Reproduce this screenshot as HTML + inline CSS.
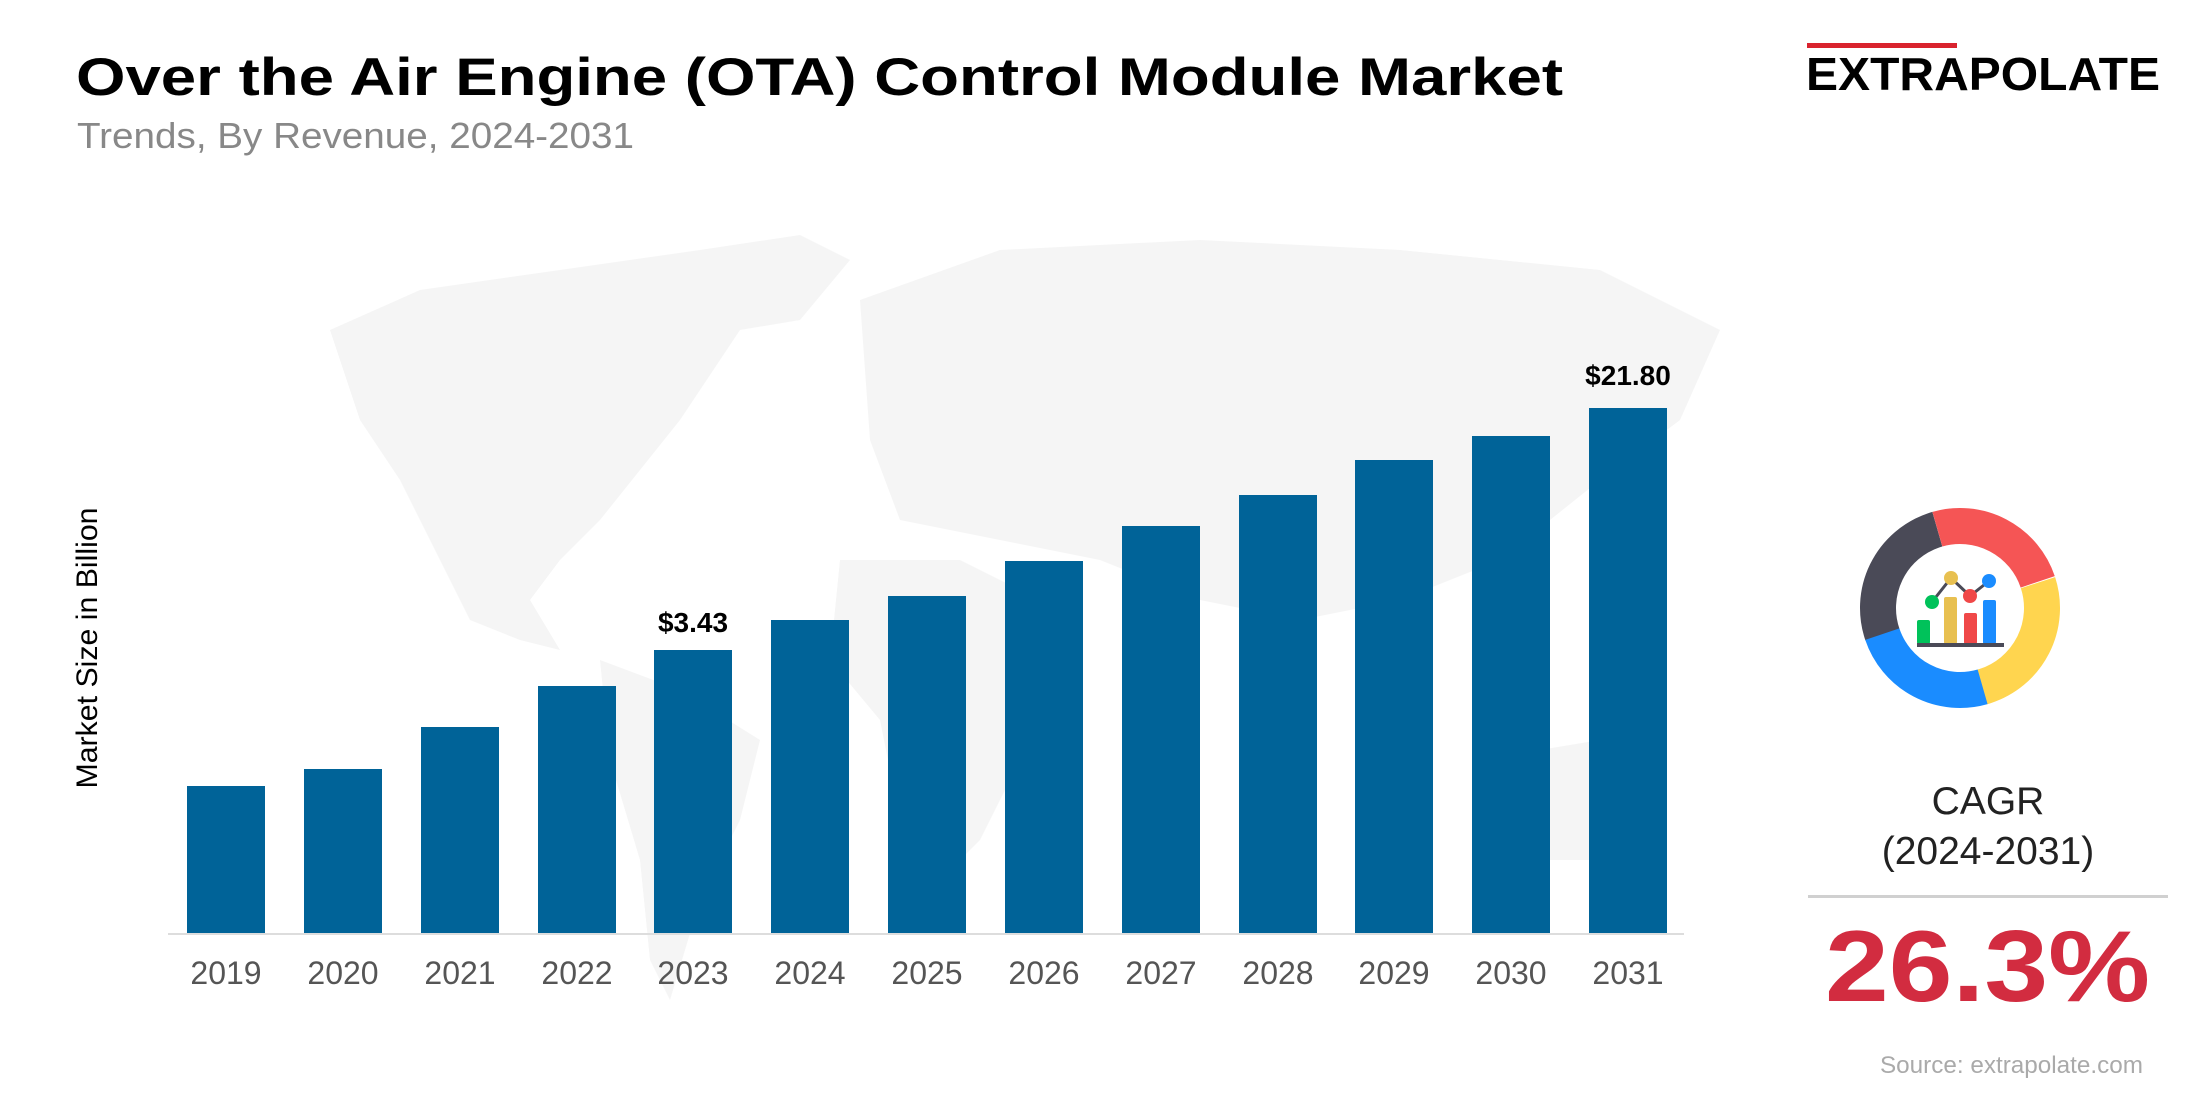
<!DOCTYPE html>
<html><head><meta charset="utf-8"><style>
html,body{margin:0;padding:0;background:#fff;}
svg{display:block;font-family:"Liberation Sans",Arial,sans-serif;}
</style></head><body>
<svg width="2200" height="1100" viewBox="0 0 2200 1100" xmlns="http://www.w3.org/2000/svg">
<rect width="2200" height="1100" fill="#fff"/>
<g fill="#f5f5f5">
<path d="M330 330 L420 290 L560 270 L700 250 L760 300 L720 360 L680 420 L640 470 L600 520 L560 560 L530 600 L560 650 L520 640 L470 620 L440 560 L400 480 L360 420 Z"/>
<path d="M700 250 L800 235 L850 260 L800 320 L740 330 Z"/>
<path d="M600 660 L680 690 L760 740 L740 820 L700 900 L670 1000 L650 960 L640 860 L610 760 Z"/>
<path d="M860 300 L1000 250 L1200 240 L1400 250 L1600 270 L1720 330 L1680 420 L1600 480 L1500 560 L1400 600 L1300 620 L1200 600 L1100 560 L1000 540 L900 520 L870 440 Z"/>
<path d="M840 560 L960 560 L1040 600 L1060 680 L1020 760 L980 840 L940 880 L900 820 L880 720 L830 660 Z"/>
<path d="M1480 760 L1600 740 L1660 790 L1630 860 L1540 860 L1490 820 Z"/>
</g>
<text x="76" y="95" font-size="53" font-weight="700" fill="#000" textLength="1487" lengthAdjust="spacingAndGlyphs">Over the Air Engine (OTA) Control Module Market</text>
<text x="77" y="148" font-size="36" fill="#888" textLength="557" lengthAdjust="spacingAndGlyphs">Trends, By Revenue, 2024-2031</text>
<rect x="1807" y="43" width="150" height="5" fill="#d9232e"/>
<text x="1806" y="90" font-size="46" font-weight="700" fill="#000" textLength="354" lengthAdjust="spacingAndGlyphs">EXTRAPOLATE</text>
<text transform="translate(97,648) rotate(-90)" text-anchor="middle" font-size="30" fill="#000" textLength="281" lengthAdjust="spacingAndGlyphs">Market Size in Billion</text>
<rect x="168" y="933" width="1516" height="2" fill="#ddd"/>
<g fill="#006398">
<rect x="187" y="786" width="78" height="147"/>
<rect x="304" y="769" width="78" height="164"/>
<rect x="421" y="727" width="78" height="206"/>
<rect x="538" y="686" width="78" height="247"/>
<rect x="654" y="650" width="78" height="283"/>
<rect x="771" y="620" width="78" height="313"/>
<rect x="888" y="596" width="78" height="337"/>
<rect x="1005" y="561" width="78" height="372"/>
<rect x="1122" y="526" width="78" height="407"/>
<rect x="1239" y="495" width="78" height="438"/>
<rect x="1355" y="460" width="78" height="473"/>
<rect x="1472" y="436" width="78" height="497"/>
<rect x="1589" y="408" width="78" height="525"/>
</g>
<g font-size="28" font-weight="700" fill="#000" text-anchor="middle">
<text x="693" y="632">$3.43</text>
<text x="1628" y="385">$21.80</text>
</g>
<g font-size="32" fill="#555" text-anchor="middle">
<text x="226" y="984">2019</text><text x="343" y="984">2020</text><text x="460" y="984">2021</text>
<text x="577" y="984">2022</text><text x="693" y="984">2023</text><text x="810" y="984">2024</text>
<text x="927" y="984">2025</text><text x="1044" y="984">2026</text><text x="1161" y="984">2027</text>
<text x="1278" y="984">2028</text><text x="1394" y="984">2029</text><text x="1511" y="984">2030</text>
<text x="1628" y="984">2031</text>
</g>
<g transform="translate(1960,608)" fill="none" stroke-width="36">
<circle r="82" stroke="#4a4a57" stroke-dasharray="133 515" transform="rotate(161)"/>
<circle r="82" stroke="#f55555" stroke-dasharray="125 515" transform="rotate(254)"/>
<circle r="82" stroke="#ffd54f" stroke-dasharray="132 515" transform="rotate(-18)"/>
<circle r="82" stroke="#1a8cff" stroke-dasharray="125 515" transform="rotate(74)"/>
</g>
<g>
<rect x="1917" y="620" width="13" height="24" rx="2" fill="#00c25a"/>
<rect x="1944" y="597" width="13" height="47" rx="2" fill="#e8c050"/>
<rect x="1964" y="613" width="13" height="31" rx="2" fill="#f04848"/>
<rect x="1983" y="600" width="13" height="44" rx="2" fill="#1a8cff"/>
<rect x="1917" y="643" width="87" height="4" fill="#4a4a57"/>
<polyline points="1932,602 1951,578 1970,596 1989,581" fill="none" stroke="#4a4a57" stroke-width="3"/>
<circle cx="1932" cy="602" r="7" fill="#00c25a"/>
<circle cx="1951" cy="578" r="7" fill="#e8c050"/>
<circle cx="1970" cy="596" r="7" fill="#f04848"/>
<circle cx="1989" cy="581" r="7" fill="#1a8cff"/>
</g>
<g text-anchor="middle" fill="#222" font-size="39">
<text x="1988" y="814">CAGR</text>
<text x="1988" y="864">(2024-2031)</text>
</g>
<rect x="1808" y="895" width="360" height="3" fill="#d0d0d0"/>
<text x="1825" y="1001" font-size="101" font-weight="700" fill="#d22c40" textLength="325" lengthAdjust="spacingAndGlyphs">26.3%</text>
<text x="1880" y="1073" font-size="24" fill="#aaa" textLength="263" lengthAdjust="spacingAndGlyphs">Source: extrapolate.com</text>
</svg>
</body></html>
